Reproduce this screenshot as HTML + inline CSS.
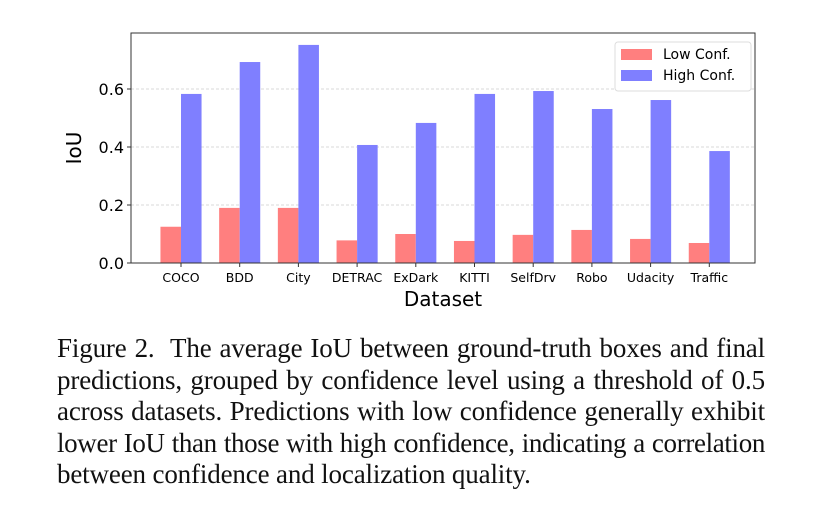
<!DOCTYPE html>
<html><head><meta charset="utf-8"><style>
body{margin:0;background:#fff;width:821px;height:528px;overflow:hidden}
svg{position:absolute;left:0;top:0}
.cap{position:absolute;left:57px;top:333px;width:708px;font-family:"Liberation Serif",serif;font-size:27px;line-height:31.6px;color:#111;letter-spacing:-0.15px}
.cap div{text-align:justify;text-align-last:justify;white-space:nowrap}
.cap div.tight{letter-spacing:-0.35px;word-spacing:-1px}
.cap div.last{text-align-last:left}
</style></head><body>
<svg id="chart" width="821" height="330"></svg>
<div class="cap">
<div>Figure 2.&nbsp; The average IoU between ground-truth boxes and final</div>
<div>predictions, grouped by confidence level using a threshold of 0.5</div>
<div>across datasets. Predictions with low confidence generally exhibit</div>
<div class="tight">lower IoU than those with high confidence, indicating a correlation</div>
<div class="last">between confidence and localization quality.</div>
</div>
<script>
const categories=["COCO","BDD","City","DETRAC","ExDark","KITTI","SelfDrv","Robo","Udacity","Traffic"];
const lowConf=[0.125,0.19,0.19,0.078,0.1,0.076,0.097,0.114,0.083,0.069];
const highConf=[0.583,0.693,0.752,0.407,0.483,0.583,0.593,0.531,0.562,0.386];
const yTicks=[0,0.2,0.4,0.6];
const yTickLabels=["0.0","0.2","0.4","0.6"];
const NS="http://www.w3.org/2000/svg";
const svg=document.getElementById('chart');
const L=131,R=755,T=33,B=263;
const yMax=(B-T)/290;
const y=v=>B-v/yMax*(B-T);
const step=58.7, x0=181;
const x=i=>x0+i*step;
const bw=0.35*step;
function el(t,a,txt){const e=document.createElementNS(NS,t);for(const k in a)e.setAttribute(k,a[k]);if(txt!==undefined)e.textContent=txt;svg.appendChild(e);return e;}
yTicks.forEach((v,i)=>{
 if(v>0){const g=el('line',{x1:L,x2:R,y1:y(v),y2:y(v),stroke:'#ccc','stroke-dasharray':'3,2','stroke-width':0.8});
 
 }
 const tk=el('line',{x1:L-4,x2:L,y1:y(v),y2:y(v),stroke:'#333'});
 
 
 const t=el('text',{x:L-7,y:y(v)+6,'text-anchor':'end','font-family':'DejaVu Sans, sans-serif','font-size':16,fill:'#000'},yTickLabels[i]);
 
 
});
categories.forEach((c,i)=>{
 const b1=el('rect',{x:x(i)-bw,y:y(lowConf[i]),width:bw,height:B-y(lowConf[i]),fill:'#ff7f7f'});
 
 
 const b2=el('rect',{x:x(i),y:y(highConf[i]),width:bw,height:B-y(highConf[i]),fill:'#7f7fff'});
 
 
 const tk=el('line',{x1:x(i),x2:x(i),y1:B,y2:B+4,stroke:'#333'});
 
 
 const t=el('text',{x:x(i),y:B+19,'text-anchor':'middle','font-family':'DejaVu Sans, sans-serif','font-size':12.5,fill:'#000'},c);
 
 
});
const fr=el('rect',{x:L,y:T,width:R-L,height:B-T,fill:'none',stroke:'#333','stroke-width':1});


const xt=el('text',{x:(L+R)/2,y:306,'text-anchor':'middle','font-family':'DejaVu Sans, sans-serif','font-size':20},'Dataset');


const yt=el('text',{x:0,y:0,'text-anchor':'middle','font-family':'DejaVu Sans, sans-serif','font-size':20,transform:'translate(81,148) rotate(-90)'},'IoU');


const lg=el('rect',{x:615,y:42,width:136,height:49,fill:'#fff',stroke:'#ddd',rx:3});


[['Low Conf.','#ff7f7f',54],['High Conf.','#7f7fff',75]].forEach(([n,c,yy])=>{
 const s=el('rect',{x:621,y:yy-5,width:31,height:11,fill:c});
 
 
 const t=el('text',{x:663,y:yy+5,'font-family':'DejaVu Sans, sans-serif','font-size':14},n);
 
 
});
</script>
</body></html>
